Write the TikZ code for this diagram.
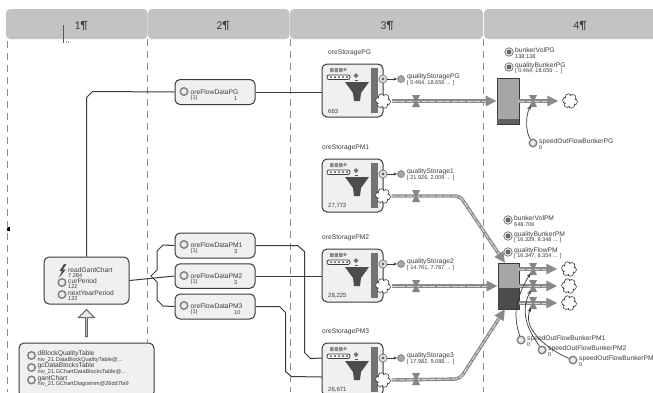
\documentclass[tikz,border=0pt]{standalone}
\usepackage{fontspec}
\setmainfont{Liberation Sans}
\newfontfamily\headfont{Carlito}
\usetikzlibrary{arrows.meta,shapes.geometric,shapes.arrows}
\definecolor{ink}{HTML}{3A3A3A}
\definecolor{txt}{HTML}{3C3C3C}
\definecolor{head}{HTML}{C2C3C5}
\definecolor{boxfill}{HTML}{F0F0F0}
\definecolor{ringc}{HTML}{7E7E7E}
\definecolor{flowc}{HTML}{8A8A8A}
\tikzset{
  lane/.style={dash pattern=on 7pt off 5pt,line width=.8pt,draw=black!45},
  headbox/.style={fill=head,rounded corners=4pt,draw=none},
  headtxt/.style={font=\headfont\fontsize{12}{12}\selectfont,text=black!75,inner sep=0},
  card/.style={draw=ink,line width=1pt,fill=boxfill,rounded corners=5pt,inner sep=0},
  wire/.style={draw=ink,line width=1pt},
  lab/.style={font=\fontsize{6.7}{6.7}\selectfont,text=txt,inner sep=0,anchor=west},
  val/.style={font=\fontsize{5.6}{5.6}\selectfont,text=txt,inner sep=0,anchor=west},
  ring/.style={circle,draw=ringc,line width=1.4pt,fill=black!8,minimum size=7.5pt,inner sep=0},
  dotring/.style={circle,draw=ringc,line width=.8pt,fill=black!8,minimum size=8.5pt,inner sep=0,
    path picture={\fill[black!60] (path picture bounding box.center) circle (2.4pt);}},
  puffzone/.style={circle,minimum size=15pt,inner sep=0},
  flowo/.style={draw=flowc,line width=3.4pt,-{Triangle[length=11pt,width=10pt]},rounded corners=5pt},
  flowi/.style={draw=white!85!black,line width=1pt,dash pattern=on 6pt off 1.5pt,rounded corners=5pt},
  curveln/.style={draw=ink,line width=.7pt,-{Stealth[length=4.5pt,width=3.5pt]},shorten >=5pt}
}
% name, x, y : a cloud made of six puffs
\newcommand{\sink}[3]{%
  \node[puffzone] (#1) at (#2,#3) {};
  \begin{scope}[shift={(#2,#3)}]
  \foreach \a in {10,70,130,190,250,310} {\draw[ink,line width=.6pt,fill=white] (\a:4.4) circle (3.1);}
  \fill[white] (0,0) circle (5);
  \end{scope}}
% name, x, y
\newcommand{\valvep}[3]{%
  \node[coordinate] (#1) at (#2,#3) {};
  \fill[black!48] (#2-4,#3-6) -- (#2+4,#3-6) -- (#2+1,#3) -- (#2+4,#3+6) -- (#2-4,#3+6) -- (#2-1,#3) -- cycle;}
% name, x, y, title, value, style
\newcommand{\param}[6]{%
  \node[#6] (#1) at (#2,#3) {};
  \node[lab] (#1t) at (#2+6,#3-1.5) {#4};
  \node[val] (#1v) at (#2+6,#3+4.5) {#5};}
% name, y, title, title-x, value, qname, qvalue
\newcommand{\storage}[7]{%
  \begin{scope}[shift={(0,#2)}]
  \node[card,minimum width=61pt,minimum height=53pt] (#1) at (352.5,26.5) {};
  \node[lab] (#1n) at (#4,-11) {#3};
  \fill[black!55] (371,4) rectangle (378,49);
  \fill[black!70] (345,18) -- (369,18) -- (361,29) -- (360,37) -- (354,37) -- (353,29) -- cycle;
  \fill[black!45] (330,4) rectangle (333.5,8) (334.5,4) rectangle (338,8) (339,4) rectangle (342.5,8);
  \fill[black!45] (345,5.5) circle (1.8);
  \fill[black!55] (356,9) -- (358.5,11.5) -- (356,14) -- (353.5,11.5) -- cycle;
  \fill[black!70] (355,15.6) rectangle (358,16.4);
  \draw[ink,line width=.8pt,fill=white,rounded corners=2pt] (327,11) rectangle (350,15.5);
  \foreach \k in {331,335,339,343,347} {\fill[ink] (\k,13.2) circle (1);}
  \node[val,font=\fontsize{6}{6}\selectfont] (#1v) at (328,47) {#5};
  \sink{#1c}{383}{37}
  \node[circle,draw=ringc,line width=.8pt,fill=black!10,minimum size=8pt,inner sep=0] (#1o) at (383,15) {};
  \fill[black!60] (383,15) circle (1.7);
  \node[circle,draw=ringc,line width=1pt,dash pattern=on .8pt off .6pt,fill=black!35,minimum size=7pt,inner sep=0] (#1q) at (401,15) {};
  \draw[draw=ink,line width=.7pt,-{Stealth[length=3.5pt,width=3pt]}] (#1o) -- (#1q);
  \node[lab] (#1qt) at (407,12.5) {#6};
  \node[val] (#1qv) at (407,19) {#7};
  \end{scope}}
\newcommand{\flowline}[1]{%
  \draw[flowo] #1;
  \draw[flowi,shorten >=11pt] #1;}
\begin{document}
\begin{tikzpicture}[x=1pt,y=-1pt]
\useasboundingbox (0,0) rectangle (653,392);
\clip (0,0) rectangle (653,392);
\fill[white] (0,0) rectangle (653,392);
% headers
\fill[headbox] (6,9) rectangle (147.5,39);
\fill[headbox] (148,9) rectangle (289.5,39);
\fill[headbox] (290,9) rectangle (483,39);
\fill[headbox] (484,9) rectangle (670,39);
\node[headtxt] (h1) at (81,26) {1¶};
\node[headtxt] (h2) at (223,26) {2¶};
\node[headtxt] (h3) at (387,26) {3¶};
\node[headtxt] (h4) at (580,26) {4¶};
\draw[black!65,line width=.5pt] (63.5,25) -- (63.5,43);
\fill[black!50] (66,41) rectangle (66.7,43) (68,41) rectangle (68.7,43);
\fill[black] (6.5,226.5) rectangle (9.5,231);
% lanes
\draw[lane] (7,41) -- (7,392);
\draw[lane] (147.5,39) -- (147.5,392);
\draw[lane] (290,39) -- (290,392);
\draw[lane] (483,39) -- (483,392);
% flow data cards
\node[card,minimum width=80pt,minimum height=25pt] (pg) at (215,92) {};
\node[card,minimum width=80pt,minimum height=25pt] (f1) at (215,245.5) {};
\node[card,minimum width=80pt,minimum height=24.5pt] (f2) at (215,276) {};
\node[card,minimum width=80pt,minimum height=25pt] (f3) at (215,306.5) {};
\node[card,minimum width=85pt,minimum height=47pt] (rg) at (86.5,280.5) {};
\node[card,minimum width=135pt,minimum height=54pt] (db) at (86.5,370) {};
% hollow arrow
\node[single arrow,draw=black!60,line width=1pt,fill=black!8,shape border rotate=90,single arrow head extend=4pt,single arrow tip angle=90,minimum height=27pt,minimum width=16pt,inner sep=0] (up) at (86.5,323.5) {};
% card text
\foreach \n/\yy/\tn/\vv in {a/92/oreFlowDataPG/1,b/245/oreFlowDataPM1/3,c/276/oreFlowDataPM2/3,d/306/oreFlowDataPM3/10}{
  \node[ring] (r\n) at (184,\yy-.5) {};
  \node[lab] (t\n) at (190.5,\yy+.5) {\tn};
  \node[val] (u\n) at (190.5,\yy+6.5) {\{1\}};
  \node[val] (w\n) at (234,\yy+6.5) {\vv};
}
\fill[black!70] (64,264) -- (59.5,271) -- (62,271) -- (58.5,278) -- (66,269.5) -- (63,269.5) -- (66.5,264) -- cycle;
\node[lab] (rgt) at (68,270) {readGantChart};
\node[val] (rgv) at (68,275.5) {7.284};
\param{cp}{62}{282.5}{curPeriod}{122}{ring}
\param{ny}{62}{294.5}{nextYearPeriod}{122}{ring}
\param{dq}{31.5}{355.5}{dBlockQualityTable}{niv\_21.DataBlockQualityTable@...}{ring}
\param{gc}{31.5}{367.5}{gcDataBlocksTable}{niv\_21.GChartDataBlocksTable@...}{ring}
\param{ga}{31.5}{380}{gantChart}{niv\_21.GChartDiagramm@26dd7fa9}{ring}
% storages
\storage{sg}{64}{oreStoragePG}{328}{663}{qualityStoragePG}{[ 0.464, 18.656 ... ]}
\storage{s1}{159}{oreStoragePM1}{322}{27,772}{qualityStorage1}{[ 21.926, 2.009 ... ]}
\storage{s2}{249}{oreStoragePM2}{322}{28,225}{qualityStorage2}{[ 14.761, 7.767 ... ]}
\storage{s3}{343}{oreStoragePM3}{322}{26,671}{qualityStorage3}{[ 17.982, 9.088 ... ]}
% wires
\draw[wire] (rg.north) -- ++(0,-159) -- ++(6,-6) -- (pg.west);
\draw[wire] (pg.east) -- (sg.west |- pg.east);
\draw[wire] (rg.east) -- (f2.west);
\draw[wire] (151,276) -- ++(6,-6) -- ++(0,-19) -- ++(6,-6) -- (f1.west);
\draw[wire] (151,276) -- ++(6,6) -- ++(0,18) -- ++(6,6) -- (f3.west);
\draw[wire] (f1.east) -- ++(42,0) -- ++(7,6) -- ++(0,101) -- ++(6,6) -- (322,358);
\draw[wire] (f2.east) -- (s2.west |- f2.east);
\draw[wire] (f3.east) -- ++(24,0) -- ++(6,6) -- ++(0,59) -- ++(6,5) -- (322,377);
% bunkers
\node[draw=ink,line width=.7pt,fill=black!35,minimum width=22pt,minimum height=46pt,inner sep=0] (bg) at (508,101) {};
\fill[black!62] (497.4,119) rectangle (518.6,123.6);
\node[draw=ink,line width=.7pt,fill=black!35,minimum width=21pt,minimum height=46pt,inner sep=0] (bp) at (508.5,286) {};
\fill[black!70] (498.4,288) rectangle (518.6,308.6);
% inflows
\flowline{([xshift=1pt]sgc.east) -- (bg.west)}
\flowline{([xshift=1pt]s1c.east) -- (460,196) -- (505,263)}
\flowline{([xshift=1pt]s2c.east) -- (bp.west)}
\flowline{([xshift=1pt]s3c.east) -- (460,379) -- (505,309)}
\valvep{vg}{416}{101}
\valvep{vs1}{416}{196}
\valvep{vs2}{416}{286}
\valvep{vs3}{416}{379}
% outflows and sinks
\sink{cg}{570}{101}
\sink{c1}{569}{269}
\sink{c2}{569}{286}
\sink{c3}{569}{303}
\flowline{(bg.east |- cg) -- ([xshift=-4pt]cg.west)}
\flowline{(519,269) -- ([xshift=-4pt]c1.west)}
\flowline{(519,286) -- ([xshift=-4pt]c2.west)}
\flowline{(519,303) -- ([xshift=-4pt]c3.west)}
\valvep{og}{533}{101}
\valvep{o1}{533}{269}
\valvep{o2}{533}{286}
\valvep{o3}{533}{303}
% parameters
\param{bv}{509}{52}{bunkerVolPG}{138.138}{dotring}
\param{qb}{509}{67}{qualityBunkerPG}{[ 0.464, 18.656 ... ]}{dotring}
\param{sp}{533}{143}{speedOutFlowBunkerPG}{0}{ring}
\param{bm}{508}{220}{bunkerVolPM}{648.706}{dotring}
\param{qm}{508}{236}{qualityBunkerPM}{[ 16.339, 8.348 ... ]}{dotring}
\param{fm}{508}{252}{qualityFlowPM}{[ 16.347, 8.354 ... ]}{dotring}
\param{p1}{521}{340}{speedOutFlowBunkerPM1}{0}{ring}
\param{p2}{542}{350}{speedOutFlowBunkerPM2}{0}{ring}
\param{p3}{573}{360}{speedOutFlowBunkerPM}{0}{ring}
% speed curves
\draw[curveln] (sp) .. controls +(-7,-10) and +(-8,16) .. (og);
\draw[curveln] (p1) .. controls +(-8,-25) and +(-18,30) .. (o1);
\draw[curveln] (p2) .. controls +(-10,-15) and +(-15,30) .. (o2);
\draw[curveln] (p3) .. controls +(-20,-8) and +(-12,28) .. (o3);
\end{tikzpicture}
\end{document}
